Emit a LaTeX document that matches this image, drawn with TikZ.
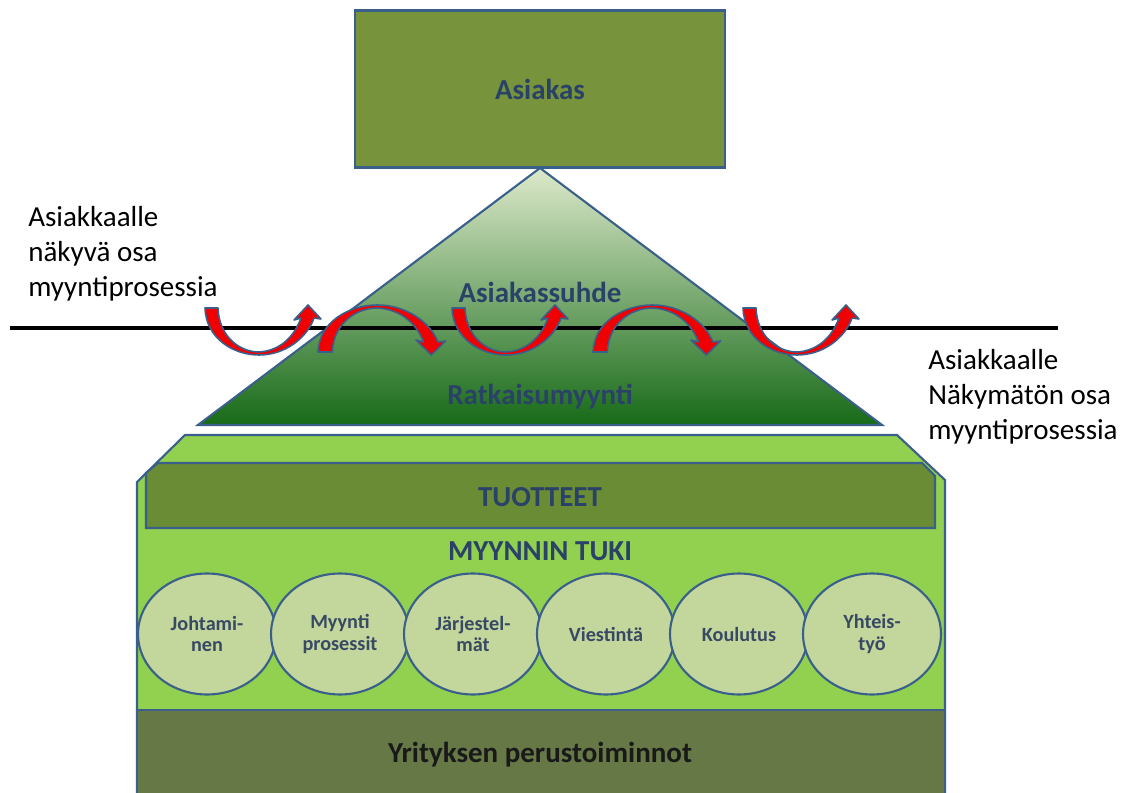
\documentclass[tikz,border=0pt]{standalone}
\usepackage{fontspec}
\setmainfont{Carlito}
\usetikzlibrary{shapes.geometric,positioning}
\definecolor{edgeblue}{HTML}{3A5F8B}
\definecolor{labelblue}{HTML}{2A4268}
\definecolor{boxgreen}{HTML}{77933C}
\definecolor{blockgreen}{HTML}{92D050}
\definecolor{prodgreen}{HTML}{6A8C35}
\definecolor{ovalgreen}{HTML}{C3D69B}
\definecolor{footgreen}{HTML}{677847}
\definecolor{trtop}{HTML}{DDE9CB}
\definecolor{trmid}{HTML}{8DB364}
\definecolor{trbot}{HTML}{176A18}
\definecolor{turnred}{HTML}{F00000}

\begin{document}
\begin{tikzpicture}[x=0.02cm,y=-0.02cm,
  bigtext/.style={font=\fontsize{16.5}{18}\selectfont\bfseries,text=labelblue},
  oval/.style={ellipse,draw=edgeblue,line width=1.2pt,fill=ovalgreen,
    minimum width=2.76cm,minimum height=2.42cm,inner sep=0pt,align=center,
    font=\fontsize{11.5}{12.5}\selectfont\bfseries,text=labelblue!80!black!90},
  side/.style={anchor=north west,inner sep=0pt,align=left,
    font=\fontsize{16.5}{20}\selectfont},
  turn/.style={fill=turnred,draw=edgeblue,line width=0.9pt,line join=round},
  upturn/.pic={
    \path[turn] (0,0) .. controls (1,30) and (28,47) .. (54,47)
      .. controls (80,47) and (102,30) .. (109,10) -- (116,11) -- (103,-3)
      -- (89,12) -- (96,10) .. controls (88,32) and (72,43) .. (54,44)
      .. controls (34,44) and (14,28) .. (13,0) -- cycle;
  }]
  \useasboundingbox (0,0) rectangle (1135,793);
  \clip (0,0) rectangle (1135,793);

  % Customer box
  \node[draw=edgeblue,line width=1.2pt,fill=boxgreen,minimum width=7.4cm,
    minimum height=3.14cm,bigtext] (asiakas) at (540,89) {Asiakas};

  % Pyramid
  \draw[edgeblue,line width=1.2pt,top color=trtop,middle color=trmid,
    bottom color=trbot] (540,168) -- (882,425) -- (198,425) -- cycle;

  % Visibility line
  \draw[line width=2pt] (10,328) -- (1058,328);

  % Turning arrows
  \pic at (205,308) {upturn};
  \pic[yscale=-1,xscale=1.1] at (318,352) {upturn};
  \pic at (452,308) {upturn};
  \pic[yscale=-1,xscale=1.1] at (593,352) {upturn};
  \pic at (743,308) {upturn};

  \node[bigtext] (suhde) at (540,292) {Asiakassuhde};
  \node[bigtext] (ratkaisu) at (540,397) {Ratkaisumyynti};

  % Side notes
  \node[side] (nakyva) at (28,206) {Asiakkaalle\\näkyvä osa\\myyntiprosessia};
  \node[side] (nakymaton) at (928,349) {Asiakkaalle\\Näkymätön osa\\myyntiprosessia};

  % Lower block
  \draw[edgeblue,line width=1.2pt,fill=blockgreen] (137,800) -- (137,482)
    -- (185,435) -- (897,435) -- (945,480) -- (945,800);
  \draw[edgeblue,line width=1.2pt,fill=prodgreen] (146,528) -- (146,473)
    -- (158,463) -- (922,463) -- (935,476) -- (935,528) -- cycle;
  \node[bigtext] (tuotteet) at (540,497) {TUOTTEET};
  \node[bigtext] (tuki) at (540,551) {MYYNNIN TUKI};

  % Support areas
  \node[oval] (johtaminen) at (207,634) {Johtami-\\nen};
  \node[oval] (myynti) at (340,634) {Myynti\\prosessit};
  \node[oval] (jarjestelmat) at (473,634) {Järjestel-\\mät};
  \node[oval] (viestinta) at (606,634) {Viestintä};
  \node[oval] (koulutus) at (739,634) {Koulutus};
  \node[oval] (yhteistyo) at (872,634) {Yhteis-\\työ};

  % Foundation
  \draw[edgeblue,line width=1.2pt,fill=footgreen] (137,800) -- (137,710)
    -- (945,710) -- (945,800);
  \node[bigtext,text=black!90] (perus) at (540,755) {Yrityksen perustoiminnot};
\end{tikzpicture}
\end{document}
